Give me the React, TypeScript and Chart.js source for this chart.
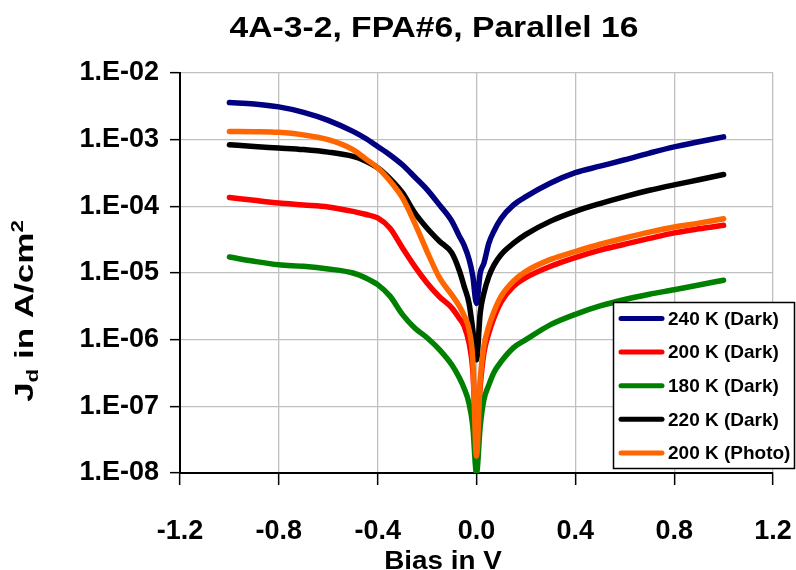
import React, { useEffect, useRef } from "react";
import { Chart, registerables } from "chart.js";

Chart.register(...registerables);

const FONT = "'Liberation Sans', Arial, sans-serif";

const chartTitle = "4A-3-2, FPA#6, Parallel 16";
const xAxisTitle = "Bias in V";

const xTicks = [-1.2, -0.8, -0.4, 0, 0.4, 0.8, 1.2];
const xTickLabels = ["-1.2", "-0.8", "-0.4", "0.0", "0.4", "0.8", "1.2"];
const yTicks = [1e-8, 1e-7, 1e-6, 1e-5, 1e-4, 1e-3, 1e-2];
const yTickLabels = ["1.E-08", "1.E-07", "1.E-06", "1.E-05", "1.E-04", "1.E-03", "1.E-02"];

const bias = [
  -1.0, -0.9, -0.8, -0.7, -0.6, -0.5, -0.45, -0.4, -0.35, -0.3, -0.25, -0.2, -0.15, -0.1, -0.07, -0.05, -0.03, -0.015,
  0,
  0.015, 0.03, 0.05, 0.07, 0.1, 0.15, 0.2, 0.3, 0.4, 0.5, 0.6, 0.7, 0.8, 0.9, 1.0,
];

const j240Dark = [
  3.6e-3, 3.43e-3, 3.1e-3, 2.57e-3, 1.95e-3, 1.33e-3, 1.05e-3, 7.9e-4, 5.9e-4, 4.2e-4, 2.75e-4, 1.78e-4, 1.05e-4, 6e-5, 3.6e-5, 2.6e-5, 1.6e-5, 9e-6,
  3.5e-6,
  1e-5, 1.4e-5, 2.8e-5, 4.2e-5, 6.6e-5, 1.05e-4, 1.4e-4, 2.24e-4, 3.2e-4, 4e-4, 5e-4, 6.3e-4, 7.8e-4, 9.3e-4, 1.1e-3,
];

const j200Dark = [
  1.36e-4, 1.23e-4, 1.12e-4, 1.05e-4, 9.8e-5, 8.4e-5, 7.6e-5, 6.7e-5, 4.7e-5, 2.4e-5, 1.26e-5, 7.1e-6, 4.4e-6, 3e-6, 2.1e-6, 1.6e-6, 8.9e-7, 3.5e-7,
  3.2e-8,
  2e-7, 6.3e-7, 1.26e-6, 2.1e-6, 3.7e-6, 6.3e-6, 8.5e-6, 1.26e-5, 1.7e-5, 2.2e-5, 2.7e-5, 3.3e-5, 4e-5, 4.6e-5, 5.2e-5,
];

const j180Dark = [
  1.74e-5, 1.5e-5, 1.33e-5, 1.26e-5, 1.15e-5, 1e-5, 8.5e-6, 6.7e-6, 4.5e-6, 2.4e-6, 1.5e-6, 1.07e-6, 7.1e-7, 4.2e-7, 2.7e-7, 1.86e-7, 1.1e-7, 5e-8,
  1e-8,
  5e-8, 1.26e-7, 2.1e-7, 3.2e-7, 4.7e-7, 7.6e-7, 1e-6, 1.68e-6, 2.4e-6, 3.2e-6, 4e-6, 4.8e-6, 5.6e-6, 6.6e-6, 7.8e-6,
];

const j220Dark = [
  8.4e-4, 7.9e-4, 7.5e-4, 7.1e-4, 6.5e-4, 5.6e-4, 4.8e-4, 3.8e-4, 2.6e-4, 1.6e-4, 8e-5, 4.7e-5, 3e-5, 2e-5, 1.1e-5, 6.3e-6, 3.5e-6, 1.4e-6,
  5e-7,
  2.5e-6, 5e-6, 8.9e-6, 1.3e-5, 1.9e-5, 2.8e-5, 3.8e-5, 6e-5, 8.4e-5, 1.1e-4, 1.4e-4, 1.74e-4, 2.1e-4, 2.5e-4, 3e-4,
];

const j200Photo = [
  1.33e-3, 1.32e-3, 1.29e-3, 1.18e-3, 1e-3, 7.1e-4, 5.2e-4, 3.8e-4, 2.4e-4, 1.35e-4, 5.6e-5, 2.1e-5, 8.5e-6, 4.7e-6, 3.2e-6, 2.3e-6, 1.4e-6, 5e-7,
  1.8e-8,
  2.5e-7, 8e-7, 1.6e-6, 2.6e-6, 4.5e-6, 7.6e-6, 1.06e-5, 1.6e-5, 2.1e-5, 2.7e-5, 3.35e-5, 4.1e-5, 4.9e-5, 5.6e-5, 6.5e-5,
];

const seriesLabels = ["240 K (Dark)", "200 K (Dark)", "180 K (Dark)", "220 K (Dark)", "200 K (Photo)"];
const seriesValues = [j240Dark, j200Dark, j180Dark, j220Dark, j200Photo];
const seriesColors = ["#000080", "#ff0000", "#008000", "#000000", "#ff6600"];
// drawing order: later legend entries on top (lower order drawn last in Chart.js)
const seriesOrder = [5, 4, 3, 2, 1];

const textPlugin = {
  id: "customText",
  afterDraw(chart: any) {
    const ctx = chart.ctx as CanvasRenderingContext2D;
    ctx.save();
    ctx.fillStyle = "#000";

    // Chart title
    ctx.save();
    ctx.font = `bold 29px ${FONT}`;
    ctx.textAlign = "center";
    ctx.textBaseline = "alphabetic";
    ctx.translate(434, 37);
    ctx.scale(1.16, 1);
    ctx.fillText(chartTitle, 0, 0);
    ctx.restore();

    // X axis title
    ctx.save();
    ctx.font = `bold 26px ${FONT}`;
    ctx.textAlign = "center";
    ctx.textBaseline = "alphabetic";
    ctx.translate(443, 569);
    ctx.scale(1.07, 1);
    ctx.fillText(xAxisTitle, 0, 0);
    ctx.restore();

    // Y axis title: J_d in A/cm^2
    ctx.save();
    const big = `bold 25px ${FONT}`;
    const small = `bold 16px ${FONT}`;
    const parts: [string, string, number][] = [
      ["J", big, 0],
      ["d", small, 5],
      [" in A/cm", big, 0],
      ["2", small, -10],
    ];
    let total = 0;
    for (const [t, f] of parts) {
      ctx.font = f;
      total += ctx.measureText(t).width;
    }
    const sx = 1.4;
    const centerY = 311;
    ctx.translate(33, centerY + (total * sx) / 2);
    ctx.rotate(-Math.PI / 2);
    ctx.scale(sx, 1);
    ctx.textAlign = "left";
    ctx.textBaseline = "alphabetic";
    let x = 0;
    for (const [t, f, dy] of parts) {
      ctx.font = f;
      ctx.fillText(t, x, dy);
      x += ctx.measureText(t).width;
    }
    ctx.restore();

    // Legend box
    const lx = 613, ly = 302, lw = 182, lh = 167;
    ctx.fillStyle = "#fff";
    ctx.fillRect(lx, ly, lw, lh);
    ctx.strokeStyle = "#000";
    ctx.lineWidth = 1.5;
    ctx.strokeRect(lx + 0.5, ly + 0.5, lw - 1, lh - 1);
    ctx.font = `bold 19px ${FONT}`;
    ctx.textAlign = "left";
    ctx.textBaseline = "middle";
    chart.data.datasets.forEach((ds: any, i: number) => {
      const yy = 318.5 + i * 33.6;
      ctx.strokeStyle = ds.borderColor;
      ctx.lineWidth = 5;
      ctx.lineCap = "round";
      ctx.beginPath();
      ctx.moveTo(621, yy);
      ctx.lineTo(662, yy);
      ctx.stroke();
      ctx.fillStyle = "#000";
      ctx.fillText(ds.label, 668, yy + 1);
    });
    ctx.restore();
  },
};

export default function App() {
  const canvasRef = useRef<HTMLCanvasElement | null>(null);

  useEffect(() => {
    if (!canvasRef.current) return;
    const datasets = seriesLabels.map((label, i) => ({
      label,
      data: bias.map((b, k) => ({ x: b, y: seriesValues[i][k] })),
      borderColor: seriesColors[i],
      backgroundColor: seriesColors[i],
      borderWidth: 5.5,
      pointRadius: 0,
      fill: false,
      cubicInterpolationMode: "monotone" as const,
      borderCapStyle: "round" as const,
      borderJoinStyle: "round" as const,
      order: seriesOrder[i],
    }));

    const tickFont = { family: FONT, size: 27, weight: "bold" as const };

    const chart = new Chart(canvasRef.current, {
      type: "line",
      data: { datasets },
      plugins: [textPlugin],
      options: {
        responsive: false,
        animation: false,
        devicePixelRatio: 1,
        layout: { padding: { top: 73, right: 23, bottom: 0, left: 0 } },
        plugins: {
          legend: { display: false },
          title: { display: false },
          tooltip: { enabled: false },
        },
        scales: {
          x: {
            type: "linear",
            min: -1.2,
            max: 1.2,
            afterBuildTicks: (s: any) => {
              s.ticks = xTicks.map((v) => ({ value: v }));
            },
            afterFit: (s: any) => {
              s.height = 97;
              s.paddingLeft = 0;
              s.paddingRight = 0;
            },
            ticks: {
              callback: (_v: any, i: number) => xTickLabels[i],
              font: tickFont,
              color: "#000",
              padding: 30,
              maxRotation: 0,
              autoSkip: false,
            },
            grid: {
              color: "#c0c0c0",
              lineWidth: 1.3,
              tickColor: "#000",
              tickLength: 12,
              tickWidth: 1.5,
            },
            border: { color: "#000", width: 2 },
          },
          y: {
            type: "logarithmic",
            min: 1e-8,
            max: 1e-2,
            afterBuildTicks: (s: any) => {
              s.ticks = yTicks.map((v) => ({ value: v }));
            },
            afterFit: (s: any) => {
              s.width = 180;
              s.paddingTop = 0;
              s.paddingBottom = 0;
            },
            ticks: {
              callback: (_v: any, i: number) => yTickLabels[i],
              font: tickFont,
              color: "#000",
              padding: 11,
              autoSkip: false,
            },
            grid: {
              color: "#c0c0c0",
              lineWidth: 1.3,
              tickColor: "#000",
              tickLength: 10,
              tickWidth: 1.5,
            },
            border: { color: "#000", width: 2 },
          },
        },
      },
    });
    return () => chart.destroy();
  }, []);

  return (
    <div style={{ position: "absolute", left: 0, top: 0, width: 796, height: 570, background: "#fff" }}>
      <canvas ref={canvasRef} width={796} height={570} style={{ display: "block" }} />
    </div>
  );
}
